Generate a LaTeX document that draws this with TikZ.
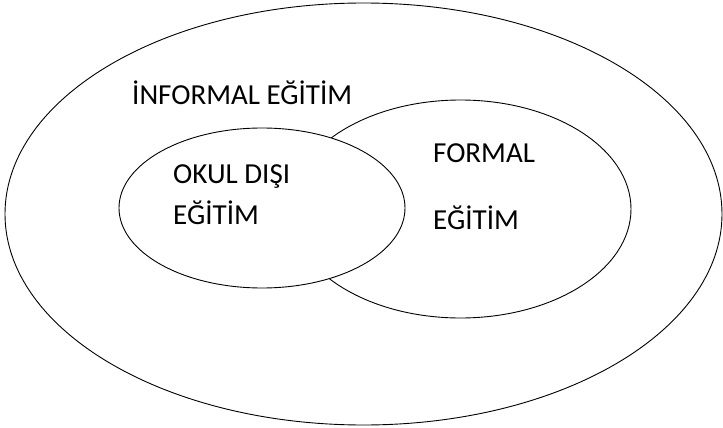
\documentclass[tikz,border=0pt]{standalone}
\usepackage{fontspec}
\setmainfont{Carlito}
\usetikzlibrary{shapes.geometric}

\begin{document}
\begin{tikzpicture}[x = 1pt, y = -1pt,
    ring/.style = {shape = ellipse, draw, line width = 0.9pt, inner sep = 0pt},
    label/.style = {anchor = base west, inner sep = 0pt, font = \fontsize{29}{34}\selectfont}]
    \useasboundingbox (0,0) rectangle (723,428);
    \node[ring, minimum width = 717pt, minimum height = 422pt] (Informal) at (363.5,214) {};
    \node[ring, minimum width = 341pt, minimum height = 218pt] (Formal) at (460.5,209) {};
    \node[ring, fill = white, minimum width = 286pt, minimum height = 160pt] (Okul) at (262,208) {};
    \node[label] (InformalText) at (132,104) {İNFORMAL EĞİTİM};
    \node[label] (FormalText) at (433,162) {FORMAL};
    \node[label] (FormalText2) at (433,229) {EĞİTİM};
    \node[label] (OkulText) at (173,183) {OKUL DIŞI};
    \node[label] (OkulText2) at (173,224) {EĞİTİM};
\end{tikzpicture}
\end{document}
